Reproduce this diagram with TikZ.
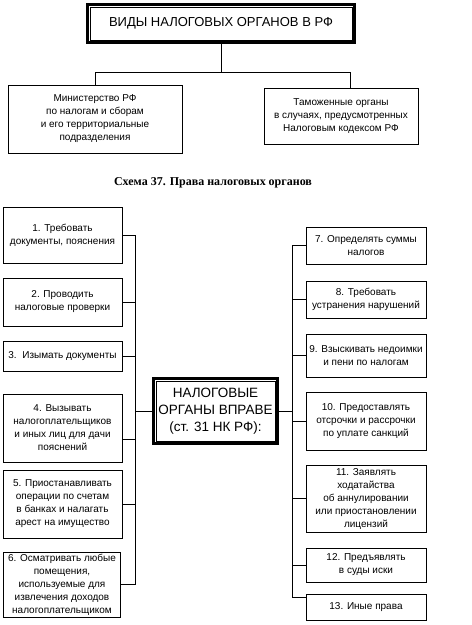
\documentclass[tikz,border=0pt]{standalone}
\usepackage{fontspec}
\setmainfont{Liberation Sans}
\newfontfamily\capfont{Liberation Serif}
\begin{document}
\begin{tikzpicture}[x=1pt,y=-1pt]
   \tikzstyle{box} = [draw, line width=0.9pt, align=center, inner sep=1pt, font=\fontsize{10}{13}\selectfont]
   \tikzstyle{frame} = [draw, line width=3pt, align=center, inner sep=1pt]
   \tikzstyle{line} = [draw, line width=0.9pt]
   \useasboundingbox (0,0) rectangle (472,625);

   \node[frame, minimum width=267, minimum height=38, font=\fontsize{13}{17}\selectfont] (vidy) at (221,23.5) {ВИДЫ НАЛОГОВЫХ ОРГАНОВ В РФ};
   \node[box, minimum width=174, minimum height=68] (mnf) at (95,119) {Министерство РФ\\по налогам и сборам\\и его территориальные\\подразделения};
   \node[box, minimum width=154, minimum height=56] (tam) at (341,116) {Таможенные органы\\в случаях, предусмотренных\\Налоговым кодексом РФ};
   \node[font=\capfont\bfseries\fontsize{12}{14}\selectfont] (cap) at (213,183) {Схема 37. Права налоговых органов};

   \node[frame, minimum width=124, minimum height=65, font=\fontsize{13.5}{17}\selectfont] (vprave) at (215.5,411) {НАЛОГОВЫЕ\\ОРГАНЫ ВПРАВЕ\\(ст. 31 НК РФ):};

   \node[box, minimum width=119, minimum height=56] (p1) at (62.5,235) {1. Требовать\\документы, пояснения};
   \node[box, minimum width=119, minimum height=48] (p2) at (62.5,302) {2. Проводить\\налоговые проверки};
   \node[box, minimum width=119, minimum height=30] (p3) at (62.5,356) {3.\ \ Изымать документы};
   \node[box, minimum width=119, minimum height=68] (p4) at (62.5,428) {4. Вызывать\\налогоплательщиков\\и иных лиц для дачи\\пояснений};
   \node[box, minimum width=119, minimum height=68] (p5) at (62.5,504) {5. Приостанавливать\\операции по счетам\\в банках и налагать\\арест на имущество};
   \node[box, minimum width=117, minimum height=65] (p6) at (62,584.5) {6. Осматривать любые\\помещения,\\используемые для\\извлечения доходов\\налогоплательщиком};

   \node[box, minimum width=120, minimum height=37] (p7) at (366,245.5) {7. Определять суммы\\налогов};
   \node[box, minimum width=120, minimum height=37] (p8) at (366,299.5) {8. Требовать\\устранения нарушений};
   \node[box, minimum width=120, minimum height=43] (p9) at (366,355.5) {9. Взыскивать недоимки\\и пени по налогам};
   \node[box, minimum width=120, minimum height=58] (p10) at (366,421) {10. Предоставлять\\отсрочки и рассрочки\\по уплате санкций};
   \node[box, minimum width=120, minimum height=67] (p11) at (366,498.5) {11. Заявлять\\ходатайства\\об аннулировании\\или приостановлении\\лицензий};
   \node[box, minimum width=120, minimum height=34] (p12) at (366,565) {12. Предъявлять\\в суды иски};
   \node[box, minimum width=120, minimum height=26] (p13) at (366,607) {13. Иные права};

   \draw[line width=0.7pt] ([shift={(4,4)}]vidy.north west) rectangle ([shift={(-4,-4)}]vidy.south east);
   \draw[line width=0.7pt] ([shift={(4,4)}]vprave.north west) rectangle ([shift={(-4,-4)}]vprave.south east);

   \coordinate (razv) at (221,72);
   \coordinate (lspine) at (135,235);
   \coordinate (lend) at (135,585);
   \coordinate (rspine) at (292,245.5);
   \coordinate (rend) at (292,597);

   \path [line] (vidy) -- (razv);
   \path [line] (razv) -| (mnf.north);
   \path [line] (razv) -| ([xshift=9]tam.north);

   \path [line] (lspine) -- (lend);
   \path [line] (rspine) -- (rend);
   \foreach \p in {p1,p2,p3,p5}
      \path [line] (\p.east) -- (\p.east -| lspine);
   \path [line] ([yshift=-11]p4.east) -- ([yshift=-11]p4.east -| lspine);
   \path [line] (p6.east) -- (p6.east -| lspine);
   \path [line] (vprave.west) -- (vprave.west -| lspine);
   \foreach \p in {p7,p8,p9,p10,p11,p12}
      \path [line] (\p.west) -- (\p.west -| rspine);
   \path [line] (rend) -- (rend -| p13.west);
   \path [line] (vprave.east) -- (vprave.east -| rspine);
 \end{tikzpicture}
\end{document}
